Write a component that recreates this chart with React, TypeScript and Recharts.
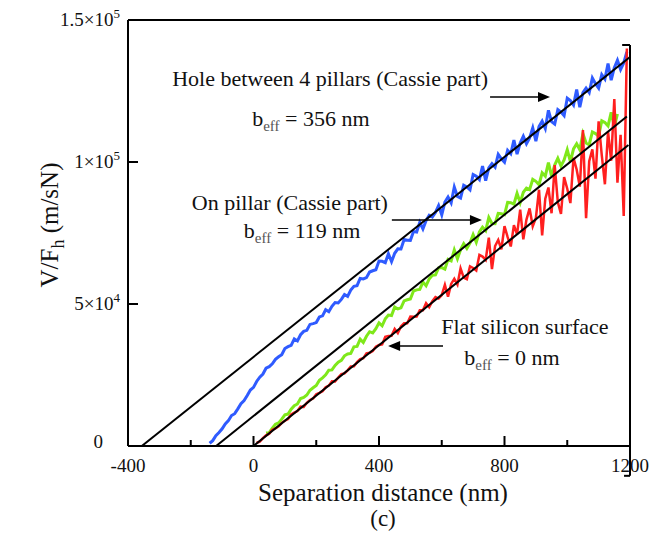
import React from "react";
import { ComposedChart, Line, XAxis, YAxis, ReferenceLine, ReferenceDot } from "recharts";

const SERIF = '"Liberation Serif", "Times New Roman", serif';

const xTicks = [-400, -200, 0, 200, 400, 600, 800, 1000, 1200];
const yTicks = [0, 50000, 100000, 150000];
const yTickLabels: [string, string][] = [["0", ""], ["5×10", "4"], ["1×10", "5"], ["1.5×10", "5"]];
const rightTicks = [41500, 90800, 100000];

// measured V/F_h, sampled every 10 nm
const STEP = 10;
const blueStart = -140;
const blueVals = [
  960, 1880, 3660, 4740, 6060, 7800, 8920, 10740, 11380, 13080,
  14880, 16000, 17760, 19720, 20640, 22720, 24240, 25340, 27380, 27920,
  28920, 30500, 31400, 32160, 34310, 34960, 35430, 37700, 37000, 39180,
  40360, 40730, 42810, 43090, 43460, 45450, 45820, 47990, 47280, 49180,
  50530, 50350, 51610, 53320, 52690, 54870, 56240, 56440, 58980, 58820,
  59270, 61250, 61700, 62060, 65120, 65020, 64560, 67700, 64900, 67860,
  69420, 69360, 72720, 72480, 72420, 75500, 75340, 78780, 76460, 79360,
  81260, 80600, 82220, 84640, 81400, 85900, 87700, 85600, 91200, 87900,
  87300, 91800, 91200, 90200, 95600, 95000, 93800, 98600, 93400, 97900,
  99400, 98200, 102700, 101100, 99900, 104100, 102900, 107700, 102800, 106700,
  109100, 106400, 108500, 112000, 107350, 112450, 114400, 111800, 118200, 114200,
  113350, 118450, 117600, 116300, 122450, 121600, 120050, 125500, 119300, 124400,
  126000, 124450, 129550, 127550, 126000, 130750, 129200, 134650, 128800, 133200,
  135850, 132550, 134850, 138800,
];
const greenStart = 40;
const greenVals = [
  4550, 4700, 6300, 7650, 8150, 9450, 11000, 11250, 12950, 14200,
  14800, 16700, 17100, 17950, 19650, 20500, 21300, 23150, 24000, 25050,
  26700, 26800, 28400, 29500, 30150, 31750, 32420, 32580, 34900, 35060,
  37620, 36440, 38640, 40240, 39800, 41280, 43360, 42320, 44760, 46120,
  45920, 48940, 48260, 48660, 51100, 51500, 51780, 54580, 54980, 55140,
  57700, 56400, 58840, 60080, 60240, 62680, 62820, 62280, 65700, 65160,
  69020, 65940, 69140, 71240, 69600, 71480, 74460, 71720, 75360, 77020,
  75820, 80440, 78360, 78260, 81900, 81800, 81480, 85780, 85680, 85140,
  89000, 85700, 89340, 90780, 90240, 93880, 93200, 92000, 96200, 95000,
  99800, 95000, 98900, 101300, 98600, 100700, 104300, 100100, 104600, 106400,
  104300, 110000, 106700, 106100, 110600, 110000, 109100, 114500, 113900, 112700,
  117500, 112400, 116900,
];
const redStart = 10;
const redVals = [
  1130, 1510, 2760, 3740, 4330, 5700, 6170, 6910, 8160, 8900,
  9490, 11130, 11770, 12310, 13850, 13740, 15230, 16220, 16760, 18250,
  18740, 19280, 20720, 21260, 22800, 22740, 24130, 25270, 25560, 26650,
  27990, 28030, 29520, 30560, 30950, 32640, 32830, 33470, 34960, 35600,
  35770, 38460, 38750, 38800, 41250, 39740, 42070, 43200, 43250, 45580,
  45510, 45560, 47770, 47820, 50270, 48880, 50970, 52460, 51910, 53100,
  56730, 52560, 57090, 58920, 56850, 62580, 59310, 58740, 63270, 62700,
  61830, 67260, 66690, 65520, 73350, 62280, 70410, 72540, 69270, 77400,
  73530, 70260, 77790, 74520, 83250, 72780, 79710, 83640, 77370, 80300,
  90230, 74160, 87090, 91020, 81950, 98880, 85810, 81740, 94670, 90600,
  85530, 101460, 97390, 91320, 111250, 80180, 100310, 104440, 94170, 114300,
  102430, 92160, 110690, 100420, 122150, 92680, 109610, 81000, 140000,
];

// linear fits (x-intercept = -b_eff)
const fitHole = [{ x: -356, y: 0 }, { x: 1200, y: 137000 }];
const fitPillar = [{ x: -119, y: 0 }, { x: 1190, y: 116000 }];
const fitFlat = [{ x: 0, y: 0 }, { x: 1195, y: 106000 }];

const notes = [
  { x: 244, y: 126800, text: "Hole between 4 pillars (Cassie part)" },
  { x: 116, y: 83100, text: "On pillar (Cassie part)" },
  { x: 865, y: 39400, text: "Flat silicon surface" },
];
const slipLengths = [
  { x: 183, y: 112700, b: 356 },
  { x: 155, y: 73200, b: 119 },
  { x: 824, y: 28500, b: 0 },
];
const arrows = [
  { x1: 754, x2: 945, y: 122900 },
  { x1: 441, x2: 728, y: 79600 },
  { x1: 604, x2: 429, y: 35200 },
];

const toPoints = (start: number, vals: number[]) => vals.map((y, i) => ({ x: start + i * STEP, y }));
const blue = toPoints(blueStart, blueVals);
const green = toPoints(greenStart, greenVals);
const red = toPoints(redStart, redVals);

function BottomTick(p: any) {
  const v = p.payload.value;
  const major = v % 400 === 0;
  return (
    <g>
      <line x1={p.x} x2={p.x} y1={p.y} y2={p.y - (major ? 10 : 6)} stroke="#000" strokeWidth={2} />
      {major && (
        <text x={p.x} y={p.y + 26} textAnchor="middle" fontFamily={SERIF} fontSize={19} fill="#111">
          {v}
        </text>
      )}
    </g>
  );
}

function TopTick(p: any) {
  const major = p.payload.value % 400 === 0;
  return <line x1={p.x} x2={p.x} y1={p.y} y2={p.y + (major ? 10 : 6)} stroke="#000" strokeWidth={2} />;
}

function LeftTick(p: any) {
  const v = p.payload.value;
  const [base, sup] = yTickLabels[yTicks.indexOf(v)];
  const inner = v > 0 && v < 150000;
  return (
    <g>
      {inner && <line x1={p.x} x2={p.x + 10} y1={p.y} y2={p.y} stroke="#000" strokeWidth={2} />}
      <text
        x={v === 0 ? p.x - 25 : p.x - 8}
        y={v === 0 ? p.y + 2 : p.y + 6}
        textAnchor="end"
        fontFamily={SERIF}
        fontSize={19}
        fill="#111"
      >
        {base}
        {sup && (
          <tspan dy={-8} fontSize={13}>
            {sup}
          </tspan>
        )}
      </text>
    </g>
  );
}

function RightTick(p: any) {
  return <line x1={p.x - 8} x2={p.x} y1={p.y} y2={p.y} stroke="#000" strokeWidth={2} />;
}

function Arrow(p: any) {
  const { x1, y1, x2, y2 } = p;
  const dir = Math.sign(x2 - x1);
  const len = 12;
  return (
    <g>
      <line x1={x1} y1={y1} x2={x2 - dir * 8} y2={y2} stroke="#000" strokeWidth={1.5} />
      <polygon points={`${x2},${y2} ${x2 - dir * len},${y2 - 5} ${x2 - dir * len},${y2 + 5}`} fill="#000" />
    </g>
  );
}

export default function App() {
  return (
    <div style={{ position: "absolute", left: 0, top: 0, background: "#fff" }}>
      <ComposedChart width={669} height={540} margin={{ top: 0, right: 0, bottom: 0, left: 0 }}>
        <XAxis
          type="number"
          dataKey="x"
          domain={[-400, 1200]}
          ticks={xTicks}
          interval={0}
          allowDataOverflow
          height={94}
          axisLine={{ stroke: "#000", strokeWidth: 2 }}
          tickLine={false}
          tickSize={0}
          tickMargin={0}
          tick={(p: any) => <BottomTick {...p} />}
          label={{
            content: (lp: any) => {
              const vb = lp.viewBox;
              const cx = vb.x + vb.width / 2 + 4;
              return (
                <g fontFamily={SERIF} fill="#111">
                  <text x={cx} y={vb.y + 55} textAnchor="middle" fontSize={25}>
                    Separation distance (nm)
                  </text>
                  <text x={cx} y={vb.y + 80} textAnchor="middle" fontSize={23}>
                    (c)
                  </text>
                </g>
              );
            },
          }}
        />
        <XAxis
          xAxisId="top"
          orientation="top"
          type="number"
          domain={[-400, 1200]}
          ticks={xTicks}
          interval={0}
          height={20}
          axisLine={{ stroke: "#000", strokeWidth: 2 }}
          tickLine={false}
          tickSize={0}
          tickMargin={0}
          tick={(p: any) => <TopTick {...p} />}
        />
        <YAxis
          type="number"
          domain={[0, 150000]}
          ticks={yTicks}
          interval={0}
          allowDataOverflow
          width={128}
          axisLine={{ stroke: "#000", strokeWidth: 2 }}
          tickLine={false}
          tickSize={0}
          tickMargin={0}
          tick={(p: any) => <LeftTick {...p} />}
          label={{
            content: () => (
              <text
                x={58}
                y={225}
                transform="rotate(-90, 58, 225)"
                textAnchor="middle"
                fontFamily={SERIF}
                fontSize={25}
                fill="#111"
              >
                V/F
                <tspan fontSize={18} dy={6}>
                  h
                </tspan>
                <tspan dy={-6}> (m/sN)</tspan>
              </text>
            ),
          }}
        />
        <YAxis
          yAxisId="right"
          orientation="right"
          type="number"
          domain={[0, 150000]}
          ticks={rightTicks}
          interval={0}
          width={39}
          axisLine={false}
          tickLine={false}
          tickSize={0}
          tickMargin={0}
          tick={(p: any) => <RightTick {...p} />}
        />

        <Line data={blue} dataKey="y" type="linear" stroke="#2f5bff" strokeWidth={3} dot={false} isAnimationActive={false} />
        <Line data={green} dataKey="y" type="linear" stroke="#7fe81a" strokeWidth={3} dot={false} isAnimationActive={false} />
        <Line data={red} dataKey="y" type="linear" stroke="#ff1f1f" strokeWidth={2.5} dot={false} isAnimationActive={false} />
        <Line data={fitHole} dataKey="y" type="linear" stroke="#000" strokeWidth={2} dot={false} isAnimationActive={false} />
        <Line data={fitPillar} dataKey="y" type="linear" stroke="#000" strokeWidth={2} dot={false} isAnimationActive={false} />
        <Line data={fitFlat} dataKey="y" type="linear" stroke="#000" strokeWidth={2} dot={false} isAnimationActive={false} />

        {/* right-hand bracket */}
        <ReferenceLine segment={[{ x: 1200, y: -10500 }, { x: 1200, y: 141200 }]} ifOverflow="visible" stroke="#000" strokeWidth={2} />
        <ReferenceLine segment={[{ x: 1175, y: 141200 }, { x: 1200, y: 141200 }]} ifOverflow="visible" stroke="#000" strokeWidth={2} />
        <ReferenceLine segment={[{ x: 1181, y: -10500 }, { x: 1200, y: -10500 }]} ifOverflow="visible" stroke="#000" strokeWidth={2} />

        {arrows.map((a, i) => (
          <ReferenceLine
            key={`arrow-${i}`}
            segment={[{ x: a.x1, y: a.y }, { x: a.x2, y: a.y }]}
            shape={(p: any) => <Arrow {...p} />}
          />
        ))}
        {notes.map((n, i) => (
          <ReferenceDot
            key={`note-${i}`}
            x={n.x}
            y={n.y}
            r={0}
            shape={(p: any) => (
              <text x={p.cx} y={p.cy} textAnchor="middle" fontFamily={SERIF} fontSize={22} fill="#111">
                {n.text}
              </text>
            )}
          />
        ))}
        {slipLengths.map((s, i) => (
          <ReferenceDot
            key={`beff-${i}`}
            x={s.x}
            y={s.y}
            r={0}
            shape={(p: any) => (
              <text x={p.cx} y={p.cy} textAnchor="middle" fontFamily={SERIF} fontSize={22} fill="#111">
                b
                <tspan fontSize={15} dy={5} fill="#555">
                  eff
                </tspan>
                <tspan dy={-5}>{` = ${s.b} nm`}</tspan>
              </text>
            )}
          />
        ))}
      </ComposedChart>
    </div>
  );
}
